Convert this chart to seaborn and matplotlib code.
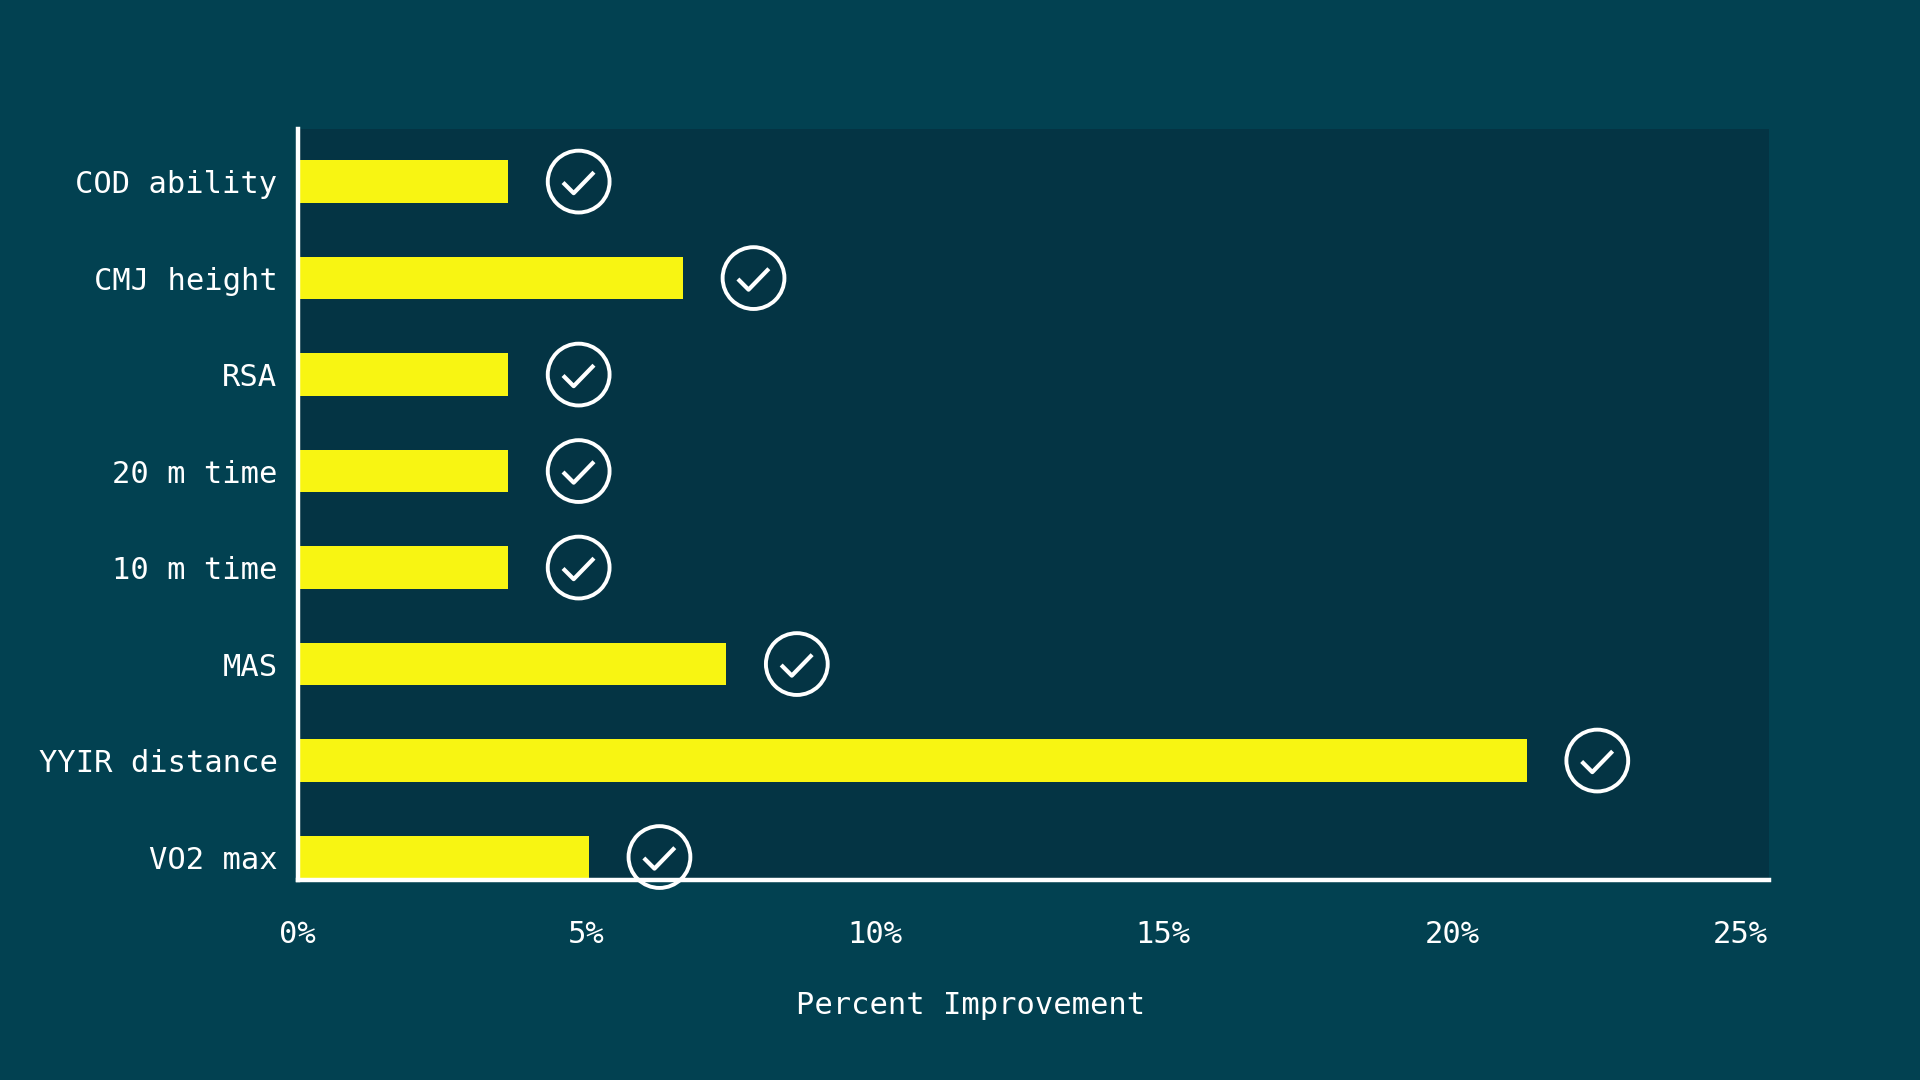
import matplotlib.pyplot as plt
import numpy as np
import pandas as pd
import seaborn as sns
from matplotlib.path import Path

OUTER = "#024151"
INNER = "#043444"
YELLOW = "#f8f512"

measures = ["COD ability", "CMJ height", "RSA", "20 m time", "10 m time",
            "MAS", "YYIR distance", "VO2 max"]
improvement = [3.65, 6.68, 3.65, 3.65, 3.65, 7.43, 21.3, 5.05]  # percent
x_ticks = [0, 5, 10, 15, 20, 25]
tick_labels = ["0%", "5%", "10%", "15%", "20%", "25%"]

df = pd.DataFrame({"measure": measures, "improvement": improvement})

sns.set_theme(style="white")
plt.rcParams["font.family"] = ["DejaVu Sans Mono", "DejaVu Sans"]

fig = plt.figure(figsize=(19.2, 10.8), dpi=100, facecolor=OUTER)
ax = fig.add_axes([0.155, 0.185, 0.7665, 0.696])
ax.set_facecolor(INNER)

sns.barplot(df, x="improvement", y="measure", orient="h", color=YELLOW,
            width=0.44, saturation=1, linewidth=0, ax=ax, zorder=2)

# check badge a fixed distance past the end of each bar
badge_x = df["improvement"] + 1.22
ypos = np.arange(len(df))
ax.scatter(badge_x, ypos, s=44.5 ** 2, facecolors="none", edgecolors="white",
           linewidths=2.8, zorder=3, clip_on=False)
check = Path([(-0.5, -0.03), (-0.16, -0.37), (0.49, 0.30)],
             [Path.MOVETO, Path.LINETO, Path.LINETO])
ax.scatter(badge_x, ypos, marker=check, s=22.5 ** 2, facecolors="none",
           edgecolors="white", linewidths=3.0, zorder=4, clip_on=False)

ax.set_xlim(0, 25.5)
ax.set_ylim(7.24, -0.55)
ax.set_xticks(x_ticks, tick_labels)
ax.tick_params(axis="x", colors="white", labelsize=22, length=0, pad=29)
ax.tick_params(axis="y", colors="white", labelsize=22, length=0, pad=14.5)
ax.set_ylabel("")
ax.set_xlabel("Percent Improvement", color="white", fontsize=22, labelpad=30)
ax.xaxis.label.set_x(0.4576)

for side in ["top", "right"]:
    ax.spines[side].set_visible(False)
for side in ["left", "bottom"]:
    ax.spines[side].set_color("white")
    ax.spines[side].set_linewidth(3.2)
    ax.spines[side].set_zorder(5)

fig.savefig("out.png", dpi=100, facecolor=OUTER)
